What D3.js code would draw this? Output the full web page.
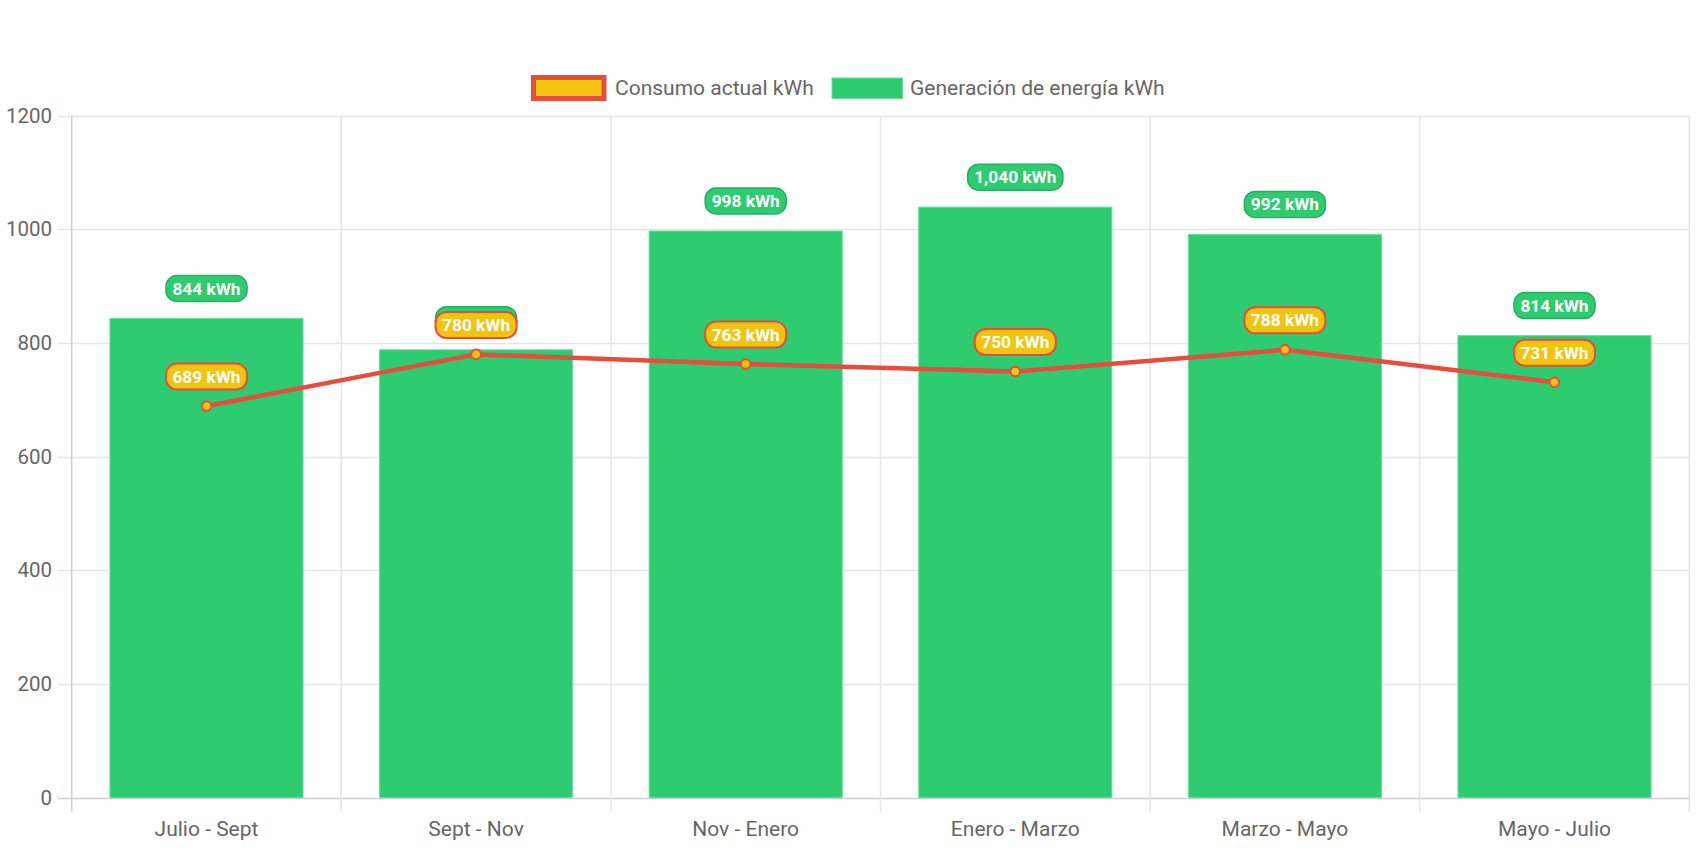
<!DOCTYPE html>
<html>
<head>
<meta charset="utf-8">
<script src="https://cdn.jsdelivr.net/npm/d3@7"></script>
<style>
  html, body { margin: 0; padding: 0; background: #fff; }
  svg { display: block; font-family: Roboto, "Noto Sans", sans-serif; }
</style>
</head>
<body>
<svg id="chart" width="1699" height="848"></svg>
<script>
const categories = ["Julio - Sept", "Sept - Nov", "Nov - Enero", "Enero - Marzo", "Marzo - Mayo", "Mayo - Julio"];
const consumo = [689, 780, 763, 750, 788, 731];
const generacion = [844, 789, 998, 1040, 992, 814];
const yTicks = [0, 200, 400, 600, 800, 1000, 1200];
const seriesNames = ["Consumo actual kWh", "Generación de energía kWh"];

(function () {
const pLeft = 71.7, pRight = 1689.3, pTop = 115.7, pBottom = 797.7;
const svg = d3.select("#chart");

const xOuter = d3.scaleBand().domain(categories).range([pLeft, pRight]).padding(0);
const xBar = d3.scaleBand().domain(categories).range([pLeft, pRight]).paddingInner(0.28).paddingOuter(0.14);
const y = d3.scaleLinear().domain([0, 1200]).range([pBottom, pTop]);

const GREEN = "#2ecc71", GREEN_DARK = "#27ae60", YELLOW = "#f1c40f", RED = "#e74c3c";
const TXT = "#666";

const grid = svg.append("g");
grid.selectAll("line.h").data(yTicks).join("line")
  .attr("x1", pLeft - 14).attr("x2", pRight)
  .attr("y1", d => Math.round(y(d)) + 0.5).attr("y2", d => Math.round(y(d)) + 0.5)
  .attr("stroke", d => d === 0 ? "#cfcfcf" : "#e5e5e5").attr("stroke-width", 1.5);
const bounds = categories.map(c => xOuter(c)).concat([pRight]);
grid.selectAll("line.v").data(bounds).join("line")
  .attr("x1", d => d).attr("x2", d => d)
  .attr("y1", pTop).attr("y2", pBottom + 14)
  .attr("stroke", (d, i) => i === 0 ? "#cfcfcf" : "#e5e5e5").attr("stroke-width", 1.5);

svg.append("g").selectAll("text").data(yTicks).join("text")
  .attr("x", 52).attr("y", d => y(d))
  .attr("text-anchor", "end").attr("dominant-baseline", "central")
  .attr("font-size", 20.5).attr("fill", TXT)
  .text(d => d);

svg.append("g").selectAll("text").data(categories).join("text")
  .attr("x", d => xOuter(d) + xOuter.bandwidth() / 2).attr("y", 835.5)
  .attr("text-anchor", "middle").attr("font-size", 21).attr("fill", TXT)
  .text(d => d);

svg.append("g").selectAll("rect").data(generacion).join("rect")
  .attr("x", (d, i) => xBar(categories[i]) + 0.5)
  .attr("y", d => y(d) + 0.5)
  .attr("width", xBar.bandwidth() - 1)
  .attr("height", d => pBottom - y(d) - 0.5)
  .attr("fill", GREEN).attr("stroke", "#6fdc9c").attr("stroke-width", 1);

const cx = (i) => xOuter(categories[i]) + xOuter.bandwidth() / 2;
const line = d3.line().x((d, i) => cx(i)).y(d => y(d));
svg.append("path").datum(consumo).attr("d", line)
  .attr("fill", "none").attr("stroke", RED).attr("stroke-width", 4.5).attr("stroke-linejoin", "round");
svg.append("g").selectAll("circle").data(consumo).join("circle")
  .attr("cx", (d, i) => cx(i)).attr("cy", d => y(d)).attr("r", 4.8)
  .attr("fill", YELLOW).attr("stroke", RED).attr("stroke-width", 2);

const fmt = d3.format(",");
function labels(data, bg, border, bw) {
  const g = svg.append("g");
  data.forEach((v, i) => {
    const lgp = g.append("g");
    const t = lgp.append("text")
      .attr("x", cx(i)).attr("y", y(v) - 29.5)
      .attr("text-anchor", "middle").attr("dominant-baseline", "central")
      .attr("font-size", 17.3).attr("font-weight", "bold").attr("fill", "#fff")
      .text(fmt(v) + " kWh");
    const w = t.node().getComputedTextLength() + 13;
    lgp.insert("rect", "text")
      .attr("x", cx(i) - w / 2).attr("y", y(v) - 29.5 - 13)
      .attr("width", w).attr("height", 26).attr("rx", 11).attr("ry", 11)
      .attr("fill", bg).attr("stroke", border).attr("stroke-width", bw);
  });
}
labels(generacion, GREEN, GREEN_DARK, 1.5);
labels(consumo, YELLOW, RED, 2);

const lg = svg.append("g");
lg.append("rect").attr("x", 533.5).attr("y", 77.5).attr("width", 70.5).attr("height", 21)
  .attr("fill", YELLOW).attr("stroke", RED).attr("stroke-width", 5);
lg.append("text").attr("x", 615).attr("y", 95).attr("font-size", 21).attr("fill", TXT).text(seriesNames[0]);
lg.append("rect").attr("x", 832).attr("y", 78).attr("width", 70.5).attr("height", 20.5)
  .attr("fill", GREEN).attr("stroke", "#6fdc9c").attr("stroke-width", 1);
lg.append("text").attr("x", 910).attr("y", 95).attr("font-size", 21).attr("fill", TXT).text(seriesNames[1]);
})();
</script>
</body>
</html>
